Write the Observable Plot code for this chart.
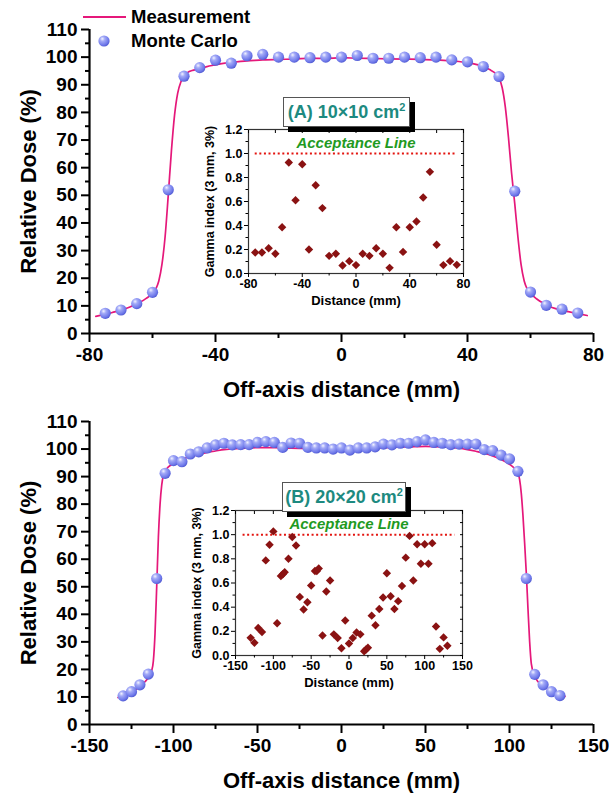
<!DOCTYPE html>
<html><head><meta charset="utf-8">
<script src="https://cdn.jsdelivr.net/npm/d3@7"></script>
<script src="https://cdn.jsdelivr.net/npm/@observablehq/plot@0.6"></script>
<style>
body{margin:0;background:#fff;font-family:"Liberation Sans",Arial,sans-serif;}
#root{position:relative;width:609px;height:798px;overflow:hidden;background:#fff}
#root > svg, #root > div{position:absolute}
.tag{background:#fff;border:1px solid #555;box-shadow:5px 5px 0 #000;color:#1d8a80;font-weight:bold;font-size:18px;line-height:28px;text-align:center;box-sizing:border-box}
.tag sup{font-size:11px;line-height:0}
.leg{font-weight:bold;font-size:18.5px;color:#000;}
.leg .row{position:absolute;height:20px;line-height:20px;white-space:nowrap}
</style>
</head><body>
<div id="root"></div>
<svg width="0" height="0" style="position:absolute">
<defs>
<radialGradient id="ball" cx="0.38" cy="0.35" r="0.7" fx="0.35" fy="0.3">
<stop offset="0" stop-color="#f2f3ff"/>
<stop offset="0.3" stop-color="#a3aaf7"/>
<stop offset="0.75" stop-color="#6f79ea"/>
<stop offset="1" stop-color="#4b55cf"/>
</radialGradient>
</defs></svg>
<script>
// ---------- Data ----------
// Panel A (10x10 cm2)
const mcA_x = [-75,-70,-65,-60,-55,-50,-45,-40,-35,-30,-25,-20,-15,-10,-5,0,5,10,15,20,25,30,35,40,45,50,55,60,65,70,75];
const mcA_y = [7.3,8.5,10.8,14.9,52,93.1,96.2,98.9,97.8,100.5,101,100,100,99.8,100,100,100.6,99.6,99.6,100,99.8,100,99.0,98.3,96.6,93.0,51.5,15.0,10.2,8.8,7.4];
const measA_x = [-78,-75,-72,-70,-68,-66,-64,-62,-60,-59,-58,-57,-56,-55,-54,-53,-52,-51,-50,-49,-47,-45,-43,-40,-37,-35,-32,-30,-25,-20,-15,-10,-5,0,5,10,15,20,25,30,35,40,43,45,47,49,50,51,52,53,54,55,56,57,58,59,60,62,64,66,68,70,72,75,78];
const measA_y = [6.2,6.9,7.8,8.4,9.2,10.2,11.3,12.7,14.5,16,19,25,35,50,66,79,87,91,93,94.3,95.3,95.8,96.5,97.2,97.8,98.0,98.5,98.6,99.0,99.2,99.3,99.6,99.5,99.8,99.6,99.5,99.4,99.3,99.2,99.0,98.6,98.0,97.3,96.6,95.5,94.0,92.5,89,82,71,58,47,35,25,19,16,14.5,12.5,11.0,9.8,9.0,8.4,7.9,7.2,6.5];
const gammaA_x = [-75,-70,-65,-60,-55,-50,-45,-40,-35,-30,-25,-20,-15,-10,-5,0,5,10,15,20,25,30,35,40,45,50,55,60,65,70,75];
const gammaA_y = [0.175,0.175,0.21,0.165,0.385,0.925,0.61,0.91,0.20,0.735,0.545,0.147,0.165,0.067,0.103,0.07,0.164,0.147,0.21,0.165,0.047,0.385,0.18,0.385,0.433,0.633,0.847,0.24,0.07,0.103,0.072];
const acceptA = [-75, 75];

// Panel B (20x20 cm2)
const mcB_x = [-130,-125,-120,-115,-110,-105,-100,-95,-90,-85,-80,-75,-70,-65,-60,-55,-50,-45,-40,-35,-30,-25,-20,-15,-10,-5,0,5,10,15,20,25,30,35,40,45,50,55,60,65,70,75,80,85,90,95,100,105,110,115,120,125,130];
const mcB_y = [10.4,11.9,14.4,18.3,53,91.2,95.8,95.4,98.2,99.0,100.4,101.5,102.1,101.5,101.6,101.6,102.4,102.7,102.4,100.6,102.2,102.1,100.6,100.4,100.4,100,100.4,99.6,100.4,100.4,100.8,101.8,101.5,102.1,102.1,102.7,103.3,102.4,102.1,101.6,101.8,101.8,101.8,99.8,99.4,97.8,96.4,91.9,53,18.2,14.4,11.9,10.5];
const measB_x = [-133,-130,-125,-120,-117,-115,-113,-112,-111,-110,-109,-108,-107,-106,-105,-103,-100,-95,-90,-85,-80,-75,-70,-60,-50,-40,-30,-20,-10,0,10,20,30,40,50,60,70,75,80,85,90,95,100,103,105,106,107,108,109,110,111,112,113,115,117,120,125,130,133];
const measB_y = [9.8,10.4,11.8,13.8,15.5,17,19.5,23,33,50,68,80,87,90.5,92,93.5,94.8,96.3,97.3,98,98.8,99.3,99.8,100.2,100.5,100.5,100.3,100.2,100,100,100,100.3,100.6,100.8,101,100.8,100.3,99.8,99.2,98.5,97.5,96.2,94.5,93,91.5,89,84,76,66,55,42,30,22,17.5,15.5,14,12,10.8,10.2];
const gammaB_x = [-130,-125,-120,-115,-110,-105,-100,-95,-90,-87.5,-85,-80,-75,-70,-65,-60,-55,-50,-45,-42.5,-40,-35,-30,-25,-20,-15,-10,-5,0,5,10,15,20,22.5,25,30,35,40,45,50,55,60,65,70,75,80,85,90,95,100,105,110,115,120,125,130];
const gammaB_y = [0.146,0.105,0.228,0.195,0.787,0.917,1.027,0.267,0.658,0.672,0.69,0.80,0.98,0.91,0.485,0.38,0.44,0.58,0.70,0.70,0.72,0.165,0.53,0.62,0.175,0.145,0.06,0.29,0.10,0.145,0.19,0.175,0.035,0.05,0.065,0.33,0.25,0.385,0.48,0.68,0.49,0.385,0.45,0.575,0.81,0.99,0.62,0.92,0.76,0.92,0.76,0.93,0.24,0.055,0.15,0.08];
const acceptB = [-140, 140];

// Ticks / labels
const doseTicks = [0,10,20,30,40,50,60,70,80,90,100,110];
const doseMinor = [5,15,25,35,45,55,65,75,85,95,105];
const xTicksA = [-80,-40,0,40,80];
const xMinorA = [-60,-20,20,60];
const xTicksB = [-150,-100,-50,0,50,100,150];
const xMinorB = [-125,-75,-25,25,75,125];
const gTicks = [0,0.2,0.4,0.6,0.8,1.0,1.2];
const gMinor = [0.1,0.3,0.5,0.7,0.9,1.1];
const gxTicksA = [-80,-40,0,40,80];
const gxMinorA = [-60,-20,20,60];
const gxTicksB = [-150,-100,-50,0,50,100,150];
const gxMinorB = [-125,-75,-25,25,75,125];
const labels = {
  xMain: "Off-axis distance (mm)", yMain: "Relative Dose (%)",
  xInset: "Distance (mm)", yInset: "Gamma index (3 mm, 3%)",
  accept: "Acceptance Line", legMeas: "Measurement", legMC: "Monte Carlo",
  tagA: "(A) 10×10 cm", tagB: "(B) 20×20 cm"
};

const zip = (xs, ys) => xs.map((x, i) => ({x, y: ys[i]}));
const FONT = "'Liberation Sans', Arial, sans-serif";
const PINK = "#e5187a";
const DARKRED = "#8a1212";
const hy = d => String(d);

function mainPlot({mc, meas, xDomain, xTicks, xMinor, height, mt, mb}) {
  return Plot.plot({
    width: 609, height, marginLeft: 89, marginRight: 16, marginTop: mt, marginBottom: mb,
    x: {domain: xDomain}, y: {domain: [0, 110]},
    style: {fontFamily: FONT, color: "#000", background: "transparent", overflow: "visible"},
    marks: [
      Plot.axisX({ticks: xTicks, tickSize: 9, tickPadding: 5, fontSize: 19, fontWeight: "bold", label: null, strokeWidth: 2, tickFormat: hy}),
      Plot.axisX({ticks: xMinor, tickSize: 5, text: null, label: null, strokeWidth: 2}),
      Plot.axisY({ticks: doseTicks, tickSize: 8, tickPadding: 4, fontSize: 19, fontWeight: "bold", label: null, strokeWidth: 2, tickFormat: hy}),
      Plot.axisY({ticks: doseMinor, tickSize: 4, text: null, label: null, strokeWidth: 2}),
      Plot.ruleY([0], {strokeWidth: 2.2}),
      Plot.ruleX([xDomain[0]], {strokeWidth: 2.2}),
      Plot.text([labels.xMain], {frameAnchor: "bottom", lineAnchor: "middle", dy: 56, fontSize: 22, fontWeight: "bold"}),
      Plot.text([labels.yMain], {frameAnchor: "left", textAnchor: "middle", lineAnchor: "middle", dx: -61, rotate: -90, fontSize: 22, fontWeight: "bold"}),
      Plot.line(meas, {x: "x", y: "y", stroke: PINK, strokeWidth: 1.7, curve: "monotone-x"}),
      Plot.dot(mc, {x: "x", y: "y", r: 5.6, fill: "url(#ball)", stroke: "none"})
    ]
  });
}

function insetPlot({g, xDomain, xTicks, xMinor, accept, width, height, ml, mr, mt, mb}) {
  return Plot.plot({
    width, height, marginLeft: ml, marginRight: mr, marginTop: mt, marginBottom: mb,
    x: {domain: xDomain}, y: {domain: [0, 1.2]},
    style: {fontFamily: FONT, color: "#000", background: "transparent", overflow: "visible"},
    marks: [
      Plot.frame({stroke: "#333", strokeWidth: 1.2}),
      Plot.axisX({ticks: xTicks, tickSize: 4, tickPadding: 2, fontSize: 12.5, fontWeight: "bold", label: null, tickFormat: hy}),
      Plot.axisX({ticks: xMinor, tickSize: 2.5, text: null, label: null}),
      Plot.axisX({anchor: "top", ticks: xTicks.concat(xMinor), tickSize: -3, text: null, label: null}),
      Plot.axisY({ticks: gTicks, tickSize: 4, tickPadding: 2, fontSize: 12.5, fontWeight: "bold", label: null, tickFormat: d3.format(".1f")}),
      Plot.axisY({ticks: gMinor, tickSize: 2.5, text: null, label: null}),
      Plot.axisY({anchor: "right", ticks: gTicks.concat(gMinor), tickSize: -3, text: null, label: null}),
      Plot.text([labels.xInset], {frameAnchor: "bottom", lineAnchor: "middle", dy: 27, fontSize: 13, fontWeight: "bold"}),
      Plot.text([labels.yInset], {frameAnchor: "left", textAnchor: "middle", lineAnchor: "middle", dx: -39, rotate: -90, fontSize: 12.5, fontWeight: "bold"}),
      Plot.ruleY([1.0], {x1: accept[0], x2: accept[1], stroke: "#e3140f", strokeWidth: 2, strokeDasharray: "2,2.6"}),
      Plot.text([labels.accept], {frameAnchor: "top", lineAnchor: "middle", dy: 14, fontSize: 15, fontWeight: "bold", fontStyle: "italic", fill: "#1f9a1f"}),
      Plot.dot(g, {x: "x", y: "y", symbol: "diamond2", r: 3.8, fill: DARKRED, stroke: "none"})
    ]
  });
}

const root = document.getElementById("root");
function place(el, left, top) { el.style.left = left + "px"; el.style.top = top + "px"; root.appendChild(el); return el; }

place(mainPlot({mc: zip(mcA_x, mcA_y), meas: zip(measA_x, measA_y), xDomain: [-80, 80], xTicks: xTicksA, xMinor: xMinorA, height: 398, mt: 29, mb: 65}), 0, 0);
place(mainPlot({mc: zip(mcB_x, mcB_y), meas: zip(measB_x, measB_y), xDomain: [-150, 150], xTicks: xTicksB, xMinor: xMinorB, height: 400, mt: 23, mb: 74}), 0, 398);

place(insetPlot({g: zip(gammaA_x, gammaA_y), xDomain: [-80, 80], xTicks: gxTicksA, xMinor: gxMinorA, accept: acceptA, width: 290, height: 200, ml: 58, mr: 17, mt: 14, mb: 42}), 190, 115);
place(insetPlot({g: zip(gammaB_x, gammaB_y), xDomain: [-150, 150], xTicks: gxTicksB, xMinor: gxMinorB, accept: acceptB, width: 300, height: 200, ml: 60, mr: 13, mt: 14, mb: 41}), 175, 496);

// tags
function tag(text, left, top, w) {
  const d = document.createElement("div");
  d.className = "tag";
  d.style.width = w + "px"; d.style.height = "30px";
  d.innerHTML = text + "<sup>2</sup>";
  return place(d, left, top);
}
tag(labels.tagA, 283, 97, 127);
tag(labels.tagB, 282, 482, 124);

// legend
const leg = document.createElement("div");
leg.className = "leg";
leg.style.width = "300px"; leg.style.height = "60px";
leg.innerHTML = `
<div class="row" style="left:0;top:0">${labels.legMeas}</div>
<div class="row" style="left:0;top:24px">${labels.legMC}</div>`;
place(leg, 131, 7);
const legSvg = d3.create("svg").attr("width", 50).attr("height", 50);
legSvg.append("line").attr("x1", 0).attr("x2", 43).attr("y1", 10).attr("y2", 10).attr("stroke", PINK).attr("stroke-width", 2);
legSvg.append("circle").attr("cx", 21).attr("cy", 34).attr("r", 5.6).attr("fill", "url(#ball)");
place(legSvg.node(), 83, 7);
</script>
</body></html>
